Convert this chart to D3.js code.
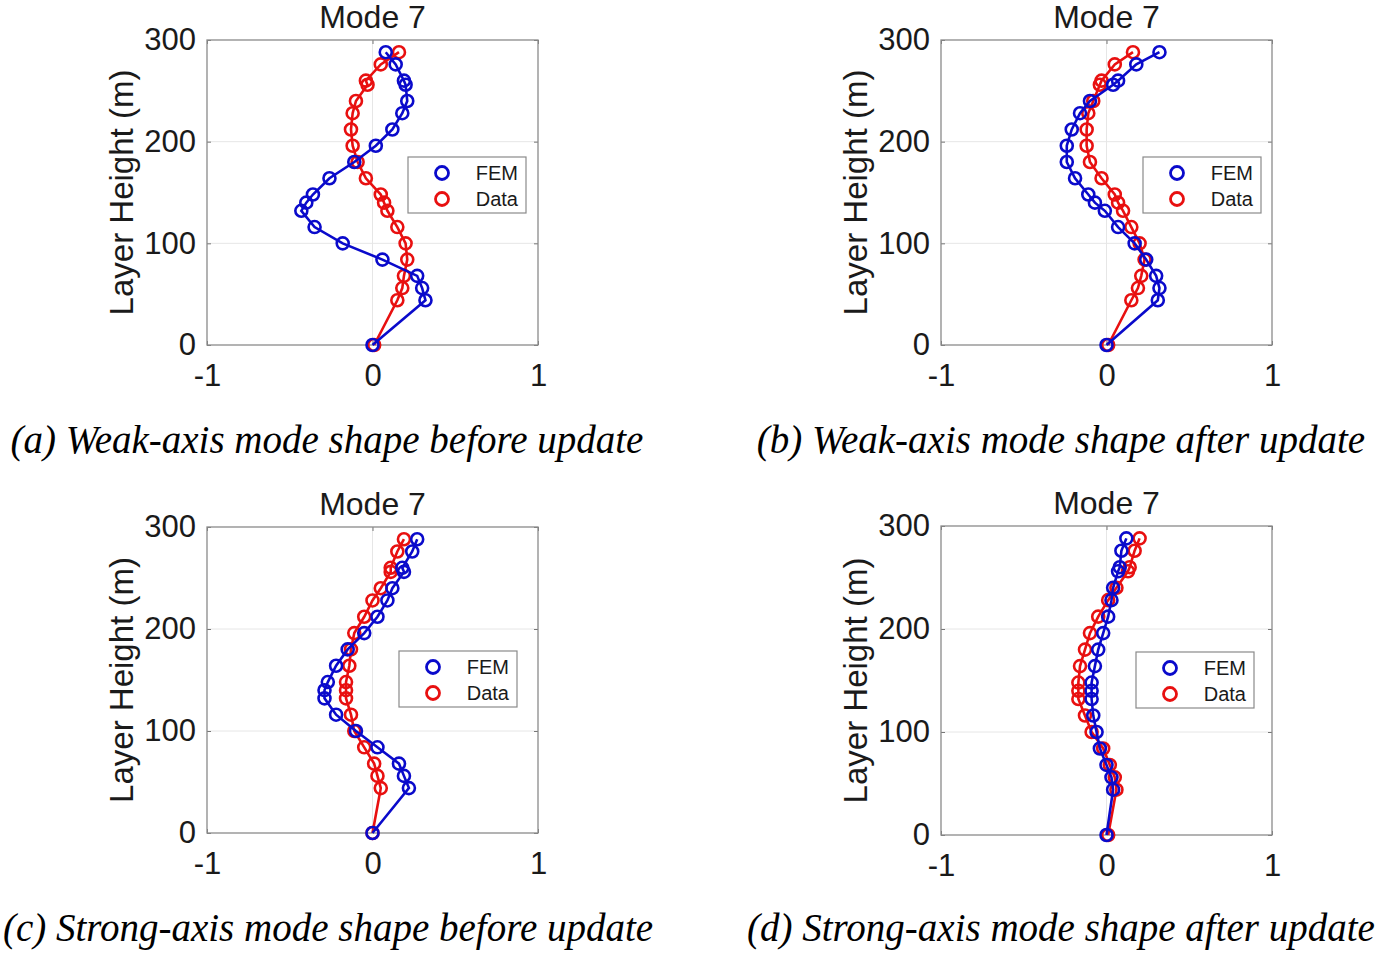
<!DOCTYPE html>
<html>
<head>
<meta charset="utf-8">
<script src="https://cdn.jsdelivr.net/npm/d3@7"></script>
<style>
  body { margin: 0; background: #fff; }
  svg { display: block; }
</style>
</head>
<body>
<svg id="chart" width="1379" height="954"></svg>
<script>
// layer heights (m), shared by every panel
const heights = [0, 44, 56, 68, 84, 100, 116, 132, 140, 148, 164, 180, 196, 212, 228, 240, 256, 260, 276, 288];

// (a) weak axis, before update
const femA  = [0, 0.32, 0.30, 0.27, 0.06, -0.18, -0.35, -0.43, -0.40, -0.36, -0.26, -0.11, 0.02, 0.12, 0.18, 0.21, 0.20, 0.19, 0.14, 0.08];
const dataA = [0.01, 0.15, 0.18, 0.19, 0.21, 0.20, 0.15, 0.09, 0.07, 0.05, -0.04, -0.09, -0.12, -0.13, -0.12, -0.10, -0.03, -0.04, 0.05, 0.16];
// (b) weak axis, after update
const femB  = [0, 0.31, 0.32, 0.30, 0.24, 0.17, 0.07, -0.01, -0.07, -0.11, -0.19, -0.24, -0.24, -0.21, -0.16, -0.10, 0.04, 0.07, 0.18, 0.32];
const dataB = [0.01, 0.15, 0.19, 0.21, 0.23, 0.20, 0.15, 0.10, 0.07, 0.05, -0.03, -0.10, -0.12, -0.12, -0.11, -0.08, -0.04, -0.03, 0.05, 0.16];
// (c) strong axis, before update
const femC  = [0, 0.22, 0.19, 0.16, 0.03, -0.10, -0.22, -0.29, -0.29, -0.27, -0.22, -0.15, -0.05, 0.03, 0.09, 0.12, 0.19, 0.18, 0.24, 0.27];
const dataC = [0, 0.05, 0.03, 0.01, -0.05, -0.11, -0.13, -0.16, -0.16, -0.16, -0.14, -0.13, -0.11, -0.05, 0.00, 0.05, 0.11, 0.11, 0.15, 0.19];
// (d) strong axis, after update
const femD  = [0, 0.04, 0.03, 0.00, -0.04, -0.06, -0.08, -0.09, -0.09, -0.09, -0.07, -0.05, -0.02, 0.01, 0.03, 0.04, 0.07, 0.08, 0.09, 0.12];
const dataD = [0.01, 0.06, 0.05, 0.02, -0.02, -0.09, -0.13, -0.17, -0.17, -0.17, -0.16, -0.13, -0.10, -0.05, 0.01, 0.06, 0.13, 0.14, 0.17, 0.20];

const xTicks = [-1, 0, 1];
const yTicks = [0, 100, 200, 300];
const seriesNames = ["FEM", "Data"];
const titles = ["Mode 7", "Mode 7", "Mode 7", "Mode 7"];
const captions = [
  "(a) Weak-axis mode shape before update",
  "(b) Weak-axis mode shape after update",
  "(c) Strong-axis mode shape before update",
  "(d) Strong-axis mode shape after update"
];

const blue = "#0a0acb";
const red = "#e81010";

// layout of each panel (box + legend), set by hand
const panels = [
  { fem: femA, data: dataA, box: [207, 40, 331, 305], legend: [408, 157], capX: 327, capY: 453 },
  { fem: femB, data: dataB, box: [941, 40, 331, 305], legend: [1143, 157], capX: 1061, capY: 453 },
  { fem: femC, data: dataC, box: [207, 527, 331, 306], legend: [399, 651], capX: 328, capY: 941 },
  { fem: femD, data: dataD, box: [941, 526, 331, 309], legend: [1136, 652], capX: 1061, capY: 941 }
];

const svg = d3.select("#chart");
const sans = "'Liberation Sans', Arial, sans-serif";

panels.forEach((p, i) => {
  const [bx, by, bw, bh] = p.box;

  const x = d3.scaleLinear().domain([-1, 1]).range([bx, bx + bw]);
  const y = d3.scaleLinear().domain([0, 300]).range([by + bh, by]);

  const g = svg.append("g");

  // grid
  g.append("g").selectAll("line")
    .data(yTicks.filter(t => t > 0 && t < 300))
    .join("line")
    .attr("x1", bx).attr("x2", bx + bw)
    .attr("y1", d => y(d)).attr("y2", d => y(d))
    .attr("stroke", "#e6e6e6").attr("stroke-width", 1);
  g.append("g").selectAll("line")
    .data(xTicks.filter(t => t > -1 && t < 1))
    .join("line")
    .attr("x1", d => x(d)).attr("x2", d => x(d))
    .attr("y1", by).attr("y2", by + bh)
    .attr("stroke", "#e6e6e6").attr("stroke-width", 1);

  // axes with inward ticks
  const axisFont = a => a.selectAll("text")
    .attr("font-family", sans)
    .attr("font-size", 31)
    .attr("fill", "#1a1a1a");
  const plain = d => String(d);   // keep the ascii hyphen as in the figure

  g.append("g")
    .attr("transform", `translate(0,${by + bh})`)
    .call(d3.axisBottom(x).tickValues(xTicks).tickFormat(plain).tickSizeInner(-4).tickSizeOuter(0).tickPadding(13))
    .call(a => a.select(".domain").remove())
    .call(a => a.selectAll("line").attr("stroke", "#777"))
    .call(axisFont)
    .call(a => a.selectAll("text").attr("dy", "0.9em"));
  g.append("g")
    .attr("transform", `translate(${bx},0)`)
    .call(d3.axisLeft(y).tickValues(yTicks).tickFormat(plain).tickSizeInner(-4).tickSizeOuter(0).tickPadding(11))
    .call(a => a.select(".domain").remove())
    .call(a => a.selectAll("line").attr("stroke", "#777"))
    .call(axisFont);
  g.append("g")
    .attr("transform", `translate(${bx + bw},0)`)
    .call(d3.axisRight(y).tickValues(yTicks).tickSizeInner(-4).tickSizeOuter(0).tickFormat(""))
    .call(a => a.select(".domain").remove())
    .call(a => a.selectAll("line").attr("stroke", "#777"));
  g.append("g")
    .attr("transform", `translate(0,${by})`)
    .call(d3.axisTop(x).tickValues(xTicks).tickSizeInner(-4).tickSizeOuter(0).tickFormat(""))
    .call(a => a.select(".domain").remove())
    .call(a => a.selectAll("line").attr("stroke", "#777"));

  // box
  g.append("rect")
    .attr("x", bx).attr("y", by).attr("width", bw).attr("height", bh)
    .attr("fill", "none").attr("stroke", "#8a8a8a").attr("stroke-width", 1.3);

  // series: data first, FEM on top
  const series = [
    { vals: p.data, color: red },
    { vals: p.fem, color: blue }
  ];
  const line = d3.line().x(d => x(d.v)).y(d => y(d.h));
  series.forEach(s => {
    const pts = s.vals.map((v, k) => ({ v: v, h: heights[k] }));
    g.append("path")
      .datum(pts)
      .attr("d", line)
      .attr("fill", "none")
      .attr("stroke", s.color)
      .attr("stroke-width", 2.6);
    g.append("g").selectAll("circle")
      .data(pts)
      .join("circle")
      .attr("cx", d => x(d.v))
      .attr("cy", d => y(d.h))
      .attr("r", 6)
      .attr("fill", "none")
      .attr("stroke", s.color)
      .attr("stroke-width", 2.6);
  });

  // title
  g.append("text")
    .attr("x", bx + bw / 2).attr("y", by - 12)
    .attr("text-anchor", "middle")
    .attr("font-family", sans)
    .attr("font-size", 32)
    .attr("fill", "#1a1a1a")
    .text(titles[i]);

  // y label
  g.append("text")
    .attr("transform", `translate(${bx - 86},${by + bh / 2}) rotate(-90)`)
    .attr("text-anchor", "middle")
    .attr("dy", "0.35em")
    .attr("font-family", sans)
    .attr("font-size", 33)
    .attr("fill", "#1a1a1a")
    .text("Layer Height (m)");

  // legend
  const [lx, ly] = p.legend;
  const lg = g.append("g").attr("transform", `translate(${lx},${ly})`);
  lg.append("rect")
    .attr("width", 118).attr("height", 56)
    .attr("fill", "#fff").attr("stroke", "#8a8a8a").attr("stroke-width", 1.2);
  [blue, red].forEach((c, k) => {
    lg.append("circle")
      .attr("cx", 34).attr("cy", 16 + k * 26).attr("r", 6.5)
      .attr("fill", "none").attr("stroke", c).attr("stroke-width", 2.8);
    lg.append("text")
      .attr("x", 110).attr("y", 16 + k * 26).attr("dy", "0.36em")
      .attr("text-anchor", "end")
      .attr("font-family", sans)
      .attr("font-size", 20)
      .attr("fill", "#1a1a1a")
      .text(seriesNames[k]);
  });

  // caption
  svg.append("text")
    .attr("x", p.capX).attr("y", p.capY)
    .attr("text-anchor", "middle")
    .attr("font-family", "'Liberation Serif', 'Times New Roman', serif")
    .attr("font-style", "italic")
    .attr("font-size", 39)
    .attr("fill", "#000")
    .text(captions[i]);
});
</script>
</body>
</html>
